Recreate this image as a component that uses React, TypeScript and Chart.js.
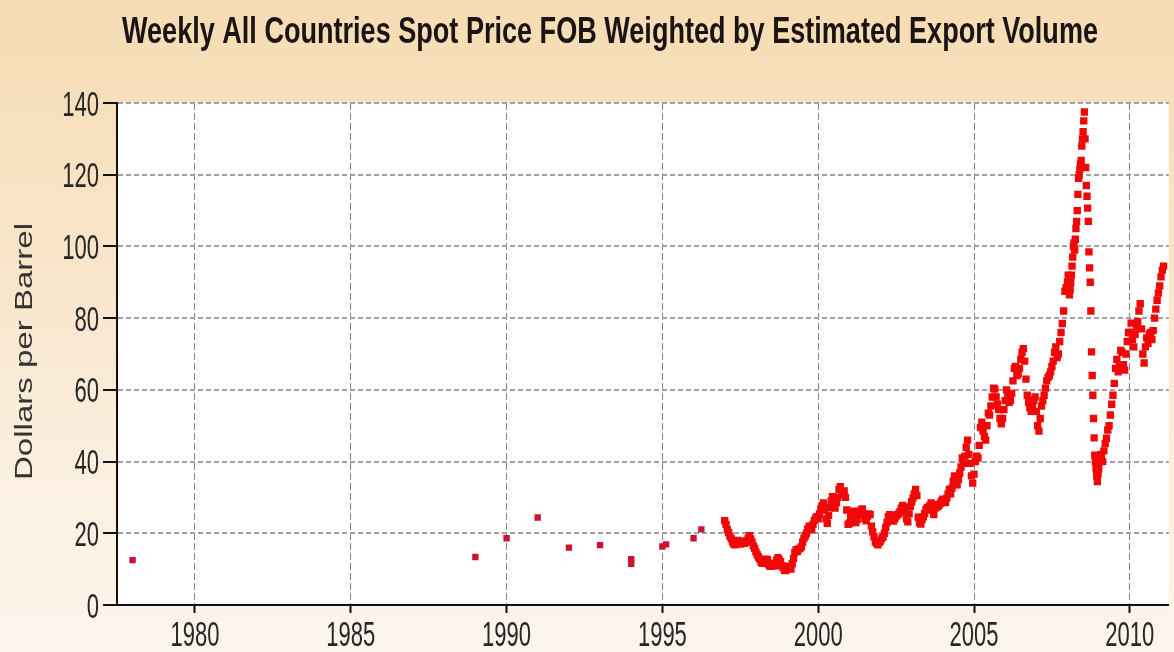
import React, { useEffect, useRef } from "react";
import { Chart, registerables } from "chart.js";

Chart.register(...registerables);

const TITLE = "Weekly All Countries Spot Price FOB Weighted by Estimated Export Volume";
const Y_TITLE = "Dollars per Barrel";
const X_TICKS = [1980, 1985, 1990, 1995, 2000, 2005, 2010];
const Y_TICKS = [0, 20, 40, 60, 80, 100, 120, 140];

// Early sparse observations (decimal year, dollars per barrel)
const earlyDates = [1978.0, 1989.0, 1990.0, 1991.0, 1992.0, 1993.0, 1994.0, 1994.0, 1995.0, 1995.12, 1996.0, 1996.25];
const earlyPrices = [12.5, 13.4, 18.6, 24.4, 16.0, 16.7, 12.8, 11.5, 16.3, 16.9, 18.6, 21.1];

// Regular observations, sampled per year
const prices1997 = [23.5, 22.5, 21.0, 20.2, 19.2, 18.5, 17.6, 17.0, 16.8, 17.6, 18.0, 17.2, 17.0, 17.4, 17.8, 17.2, 17.5, 17.9, 18.6, 19.3, 18.4, 17.6, 16.5, 15.8];
const prices1998 = [14.8, 14.0, 13.4, 12.8, 12.0, 11.6, 12.5, 12.2, 12.8, 12.6, 11.2, 10.8, 11.6, 11.3, 11.0, 10.9, 12.5, 13.2, 12.6, 12.1, 11.0, 10.5, 9.7, 9.6];
const prices1999 = [10.3, 10.8, 10.2, 10.0, 11.5, 13.0, 14.6, 15.4, 15.0, 15.6, 15.8, 16.2, 17.5, 18.6, 19.2, 20.0, 21.2, 22.0, 21.4, 21.0, 22.5, 23.6, 24.2, 24.6];
const prices2000 = [24.0, 25.4, 26.8, 27.6, 28.5, 26.5, 24.0, 22.8, 25.0, 27.2, 29.0, 30.2, 28.0, 27.0, 28.6, 30.0, 32.2, 33.0, 30.8, 31.6, 31.8, 30.0, 26.5, 22.5];
const prices2001 = [22.8, 24.5, 25.8, 26.2, 24.5, 23.0, 23.8, 25.0, 26.0, 26.5, 26.8, 25.4, 24.0, 23.5, 24.8, 25.4, 25.2, 22.0, 20.4, 19.0, 17.6, 17.2, 16.8, 17.5];
const prices2002 = [17.8, 18.6, 19.0, 20.0, 21.6, 23.0, 24.6, 25.2, 24.8, 24.2, 23.4, 24.0, 24.8, 25.2, 25.4, 26.0, 27.0, 27.8, 27.2, 26.0, 24.0, 23.2, 25.4, 27.5];
const prices2003 = [28.8, 29.8, 31.0, 32.2, 30.5, 24.5, 23.0, 22.6, 23.8, 24.6, 25.5, 26.6, 27.2, 27.0, 27.8, 28.5, 26.4, 25.2, 27.0, 28.0, 27.4, 27.8, 28.4, 29.0];
const prices2004 = [29.5, 29.2, 28.6, 29.8, 31.0, 32.2, 31.0, 32.6, 34.5, 36.0, 34.8, 33.5, 35.0, 36.8, 38.5, 41.0, 39.5, 41.5, 44.0, 46.0, 42.0, 39.5, 36.0, 34.0];
const prices2005 = [36.5, 40.0, 41.5, 41.0, 44.5, 49.5, 51.0, 48.5, 47.0, 46.0, 50.0, 53.5, 53.0, 55.5, 58.0, 60.5, 60.2, 58.0, 56.0, 54.5, 52.0, 50.5, 52.0, 54.5];
const prices2006 = [57.0, 60.0, 58.5, 56.5, 57.0, 59.0, 62.5, 66.0, 66.5, 64.0, 64.5, 66.0, 68.5, 70.5, 71.5, 68.0, 63.0, 58.5, 56.5, 55.0, 54.0, 55.0, 57.0, 58.0];
const prices2007 = [54.0, 50.0, 48.5, 52.0, 55.5, 57.0, 58.5, 60.5, 62.5, 63.5, 64.0, 65.0, 66.5, 68.0, 70.5, 72.0, 69.0, 70.0, 73.5, 76.0, 78.5, 82.0, 87.5, 88.5];
const prices2008 = [
  90.0, 92.0, 88.0, 86.5, 88.0, 90.0, 92.0, 94.5, 97.0, 100.0, 101.0, 99.0,
  102.0, 105.0, 107.0, 110.0, 114.5, 119.0, 120.0, 121.5, 123.0, 124.0, 128.0, 130.0,
  132.0, 135.0, 137.5, 130.0, 122.0, 117.0, 114.0, 110.7, 107.0, 98.5, 94.0, 90.0,
  82.0, 70.6, 64.0, 58.5, 52.0, 46.6, 41.8, 40.0, 38.0, 36.0, 34.4, 36.5,
];
const prices2009 = [38.0, 40.5, 42.0, 40.0, 43.0, 45.0, 46.5, 48.8, 50.0, 53.0, 56.0, 58.5, 61.8, 66.0, 68.5, 65.0, 67.0, 71.0, 70.5, 67.0, 65.5, 70.0, 73.5, 76.0];
const prices2010 = [76.0, 78.6, 74.0, 72.0, 75.5, 77.5, 79.0, 82.0, 84.0, 77.0, 70.0, 67.5, 72.0, 74.5, 73.0, 75.5, 76.0, 74.0, 76.5, 80.0, 82.5, 85.0, 87.0, 89.0];
const prices2011 = [91.5, 93.4, 94.5];

const SEGMENTS: [number, number, number[]][] = [
  [1997, 24, prices1997],
  [1998, 24, prices1998],
  [1999, 24, prices1999],
  [2000, 24, prices2000],
  [2001, 24, prices2001],
  [2002, 24, prices2002],
  [2003, 24, prices2003],
  [2004, 24, prices2004],
  [2005, 24, prices2005],
  [2006, 24, prices2006],
  [2007, 24, prices2007],
  [2008, 48, prices2008],
  [2009, 24, prices2009],
  [2010, 24, prices2010],
  [2011, 24, prices2011],
];

const FONT = '"Liberation Sans", Arial, sans-serif';

const textPlugin = {
  id: "customTexts",
  beforeDraw(chart: any) {
    const { ctx, chartArea } = chart;
    ctx.save();
    ctx.fillStyle = "#ffffff";
    ctx.fillRect(chartArea.left, chartArea.top, chartArea.right - chartArea.left, chartArea.bottom - chartArea.top);
    ctx.restore();
  },
  afterDraw(chart: any) {
    const ctx = chart.ctx;
    const xs = chart.scales.x;
    const ys = chart.scales.y;
    ctx.save();

    // Title
    ctx.fillStyle = "#1c1414";
    ctx.font = `bold 30px ${FONT}`;
    ctx.textAlign = "center";
    ctx.textBaseline = "alphabetic";
    const tw = ctx.measureText(TITLE).width;
    ctx.save();
    ctx.translate(610, 43);
    ctx.scale(976 / tw, 27 / (0.716 * 30));
    ctx.fillText(TITLE, 0, 0);
    ctx.restore();

    // Tick labels
    const fs = 22;
    const sy = 1.6;
    const capH = 0.716 * fs * sy;
    ctx.font = `${fs}px ${FONT}`;
    ctx.fillStyle = "#262626";
    ctx.textAlign = "right";
    for (const v of Y_TICKS) {
      const py = ys.getPixelForValue(v);
      ctx.save();
      ctx.translate(99, py + capH / 2);
      ctx.scale(1, sy);
      ctx.fillText(String(v), 0, 0);
      ctx.restore();
    }
    ctx.textAlign = "center";
    for (const v of X_TICKS) {
      const px = xs.getPixelForValue(v);
      ctx.save();
      ctx.translate(px, 646);
      ctx.scale(1, sy);
      ctx.fillText(String(v), 0, 0);
      ctx.restore();
    }

    // Y axis title
    ctx.font = `23px ${FONT}`;
    ctx.fillStyle = "#333333";
    const yw = ctx.measureText(Y_TITLE).width;
    ctx.save();
    ctx.translate(31.5, 351.5);
    ctx.rotate(-Math.PI / 2);
    ctx.scale(257 / yw, 1);
    ctx.textAlign = "center";
    ctx.fillText(Y_TITLE, 0, 0);
    ctx.restore();

    ctx.restore();
  },
};

export default function App() {
  const canvasRef = useRef<HTMLCanvasElement | null>(null);

  useEffect(() => {
    document.body.style.margin = "0";
    const canvas = canvasRef.current;
    if (!canvas) return;

    const early = earlyDates.map((d, i) => ({ x: d, y: earlyPrices[i] }));
    const regular: { x: number; y: number }[] = [];
    for (const [year, perYear, values] of SEGMENTS) {
      values.forEach((v, i) => regular.push({ x: year + i / perYear, y: v }));
    }

    const chart = new Chart(canvas, {
      type: "scatter",
      data: {
        datasets: [
          {
            data: early,
            pointStyle: "rect",
            pointRadius: 4.5,
            pointBorderWidth: 0,
            backgroundColor: "#cc1133",
            borderColor: "#cc1133",
          },
          {
            data: regular,
            pointStyle: "rect",
            pointRadius: 5.2,
            pointBorderWidth: 0,
            backgroundColor: "#f00808",
            borderColor: "#f00808",
          },
        ],
      },
      options: {
        animation: false,
        responsive: true,
        maintainAspectRatio: false,
        layout: { padding: { top: 103, left: 0, right: 0, bottom: 0 } },
        plugins: {
          legend: { display: false },
          tooltip: { enabled: false },
          title: { display: false },
        },
        scales: {
          x: {
            type: "linear",
            min: 1977.5,
            max: 2011.25,
            afterFit: (s: any) => {
              s.height = 47;
            },
            ticks: { display: false, stepSize: 5, includeBounds: false },
            grid: {
              color: "#858585",
              lineWidth: 1,
              drawTicks: true,
              tickLength: 8,
              tickColor: "#111111",
              tickWidth: 2,
              tickBorderDash: [],
            },
            border: { display: true, color: "#111111", width: 2, dash: [7, 3] },
          },
          y: {
            type: "linear",
            min: 0,
            max: 140,
            afterFit: (s: any) => {
              s.width = 117;
            },
            ticks: { display: false, stepSize: 20 },
            grid: {
              color: "#a0a0a0",
              lineWidth: 2,
              drawTicks: true,
              tickLength: 14,
              tickColor: "#111111",
              tickWidth: 2,
              tickBorderDash: [],
            },
            border: { display: true, color: "#111111", width: 2, dash: [5, 3] },
          },
        },
      },
      plugins: [textPlugin],
    });

    return () => chart.destroy();
  }, []);

  return (
    <div
      style={{
        width: 1174,
        height: 652,
        position: "relative",
        background: "linear-gradient(to bottom, #f5dcb3 0%, #f8e5c9 40%, #fbf0e1 75%, #fcf5ec 100%)",
      }}
    >
      <canvas ref={canvasRef} />
    </div>
  );
}
